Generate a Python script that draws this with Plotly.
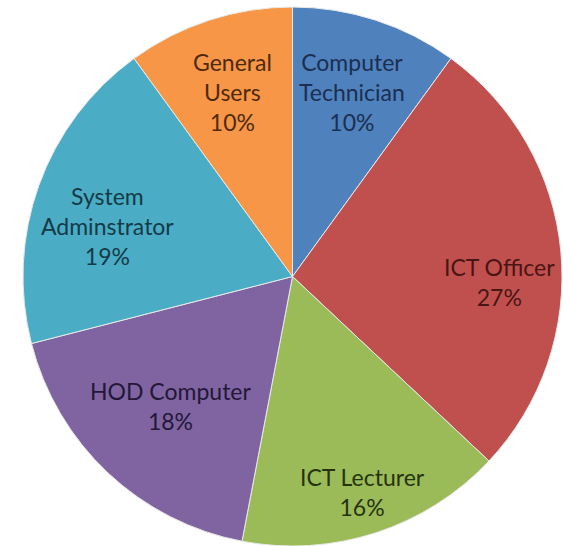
import math
import plotly.graph_objects as go

# Survey respondents by role
roles = ["Computer<br>Technician", "ICT Officer", "ICT Lecturer",
         "HOD Computer", "System<br>Adminstrator", "General<br>Users"]
shares = [10, 27, 16, 18, 19, 10]

slice_colors = ["#4F81BD", "#C0504D", "#9BBB59", "#8064A2", "#4BACC6", "#F79646"]
text_colors = ["#1B2F52", "#4A1515", "#26330F", "#231838", "#133B47", "#4E2A0C"]

# Label placement inside each slice: fraction of the radius and a small
# angular nudge (degrees, clockwise) so the text sits well within the wedge
label_radius = [0.72, 0.77, 0.84, 0.66, 0.71, 0.72]
label_nudge = [0, 7, 0, 0, -4.5, 0]

W, H = 563, 546
dom_x = [22 / W, 1.0]
dom_y = [0.0, 1 - 7 / H]

fig = go.Figure(
    go.Pie(
        labels=roles,
        values=shares,
        sort=False,
        direction="clockwise",
        rotation=0,
        marker=dict(colors=slice_colors, line=dict(color="#E8E8E8", width=1)),
        textinfo="none",
        hoverinfo="label+value",
        showlegend=False,
        domain=dict(x=dom_x, y=dom_y),
    )
)

# Pie geometry in pixels (the pie fills the smaller side of its domain)
dw = (dom_x[1] - dom_x[0]) * W
dh = (dom_y[1] - dom_y[0]) * H
radius = min(dw, dh) / 2
cx = (dom_x[0] + dom_x[1]) / 2 * W
cy = (1 - (dom_y[0] + dom_y[1]) / 2) * H

total = sum(shares)
cum = 0
for name, v, col, rf, nudge in zip(roles, shares, text_colors, label_radius, label_nudge):
    theta = math.radians(360 * (cum + v / 2) / total + nudge)
    cum += v
    px = cx + rf * radius * math.sin(theta)
    py = cy - rf * radius * math.cos(theta)
    fig.add_annotation(
        x=px / W, y=1 - py / H, xref="paper", yref="paper",
        text=f"{name}<br>{round(100 * v / total)}%",
        showarrow=False, align="center",
        xanchor="center", yanchor="middle",
        font=dict(family="Lato", size=23, color=col),
    )

fig.update_layout(
    width=W,
    height=H,
    margin=dict(l=0, r=0, t=0, b=0),
    paper_bgcolor="white",
    plot_bgcolor="white",
)

fig.write_html("out.html")
